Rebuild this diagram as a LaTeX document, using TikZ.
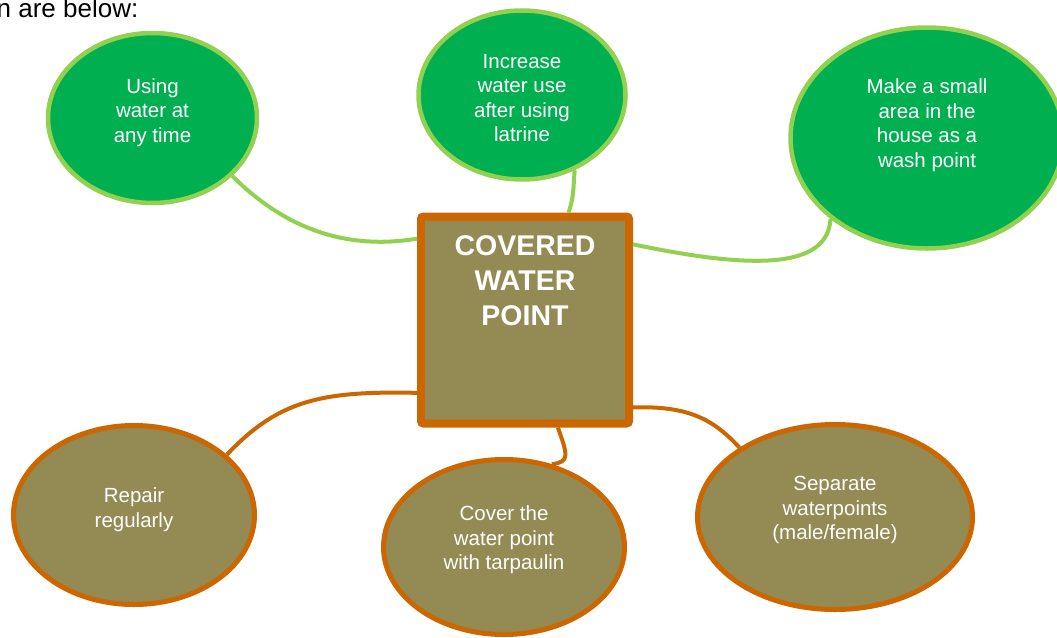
\documentclass[tikz,border=0pt]{standalone}
\usepackage{fontspec}
\setmainfont{Liberation Sans}
\usetikzlibrary{shapes.geometric}
\definecolor{dkgreen}{HTML}{00B050}
\definecolor{ltgreen}{HTML}{92D050}
\definecolor{rust}{HTML}{CC6600}
\definecolor{olive}{HTML}{948A54}
\tikzset{
  gbub/.style={ellipse, draw=ltgreen, fill=dkgreen, line width=4.5pt, inner sep=0pt},
  obub/.style={ellipse, draw=rust, fill=olive, line width=5pt, inner sep=0pt},
  btxt/.style={text=white, font=\fontsize{20.5}{24.5}\selectfont, align=center, inner sep=0pt},
  gline/.style={draw=ltgreen, line width=4pt},
  oline/.style={draw=rust, line width=4pt},
  core/.style={rectangle, draw=rust, fill=olive, line width=8pt, rounded corners=2.5pt,
    inner sep=0pt, minimum width=208pt, minimum height=207pt},
  ctxt/.style={text=white, font=\bfseries\fontsize{28.5}{35}\selectfont, align=center, inner sep=0pt}
}
\begin{document}
\begin{tikzpicture}[x=1pt,y=-1pt]
\useasboundingbox (0,0) rectangle (1057,637);
\clip (0,0) rectangle (1057,637);
\node[anchor=base west, font=\fontsize{26}{30}\selectfont, inner sep=0pt] (intro) at (-3.5,17.5) {n are below:};

\node[core, label={[ctxt,yshift=39pt]center:COVERED\\WATER\\POINT}] (sq) at (525,320) {};

\node[gbub, minimum width=209pt, minimum height=170pt,
  label={[btxt,yshift=5.5pt]center:Using\\water at\\any time}] (e1) at (152.5,118) {};
\node[gbub, minimum width=207pt, minimum height=169pt,
  label={[btxt,yshift=-3pt]center:Increase\\water use\\after using\\latrine}] (e2) at (522,95) {};
\node[gbub, minimum width=273pt, minimum height=221pt,
  label={[btxt,yshift=13pt]center:Make a small\\area in the\\house as a\\wash point}] (e3) at (927,138) {};

\node[obub, minimum width=241pt, minimum height=179pt,
  label={[btxt,yshift=5.5pt]center:Repair\\regularly}] (e4) at (134,515) {};
\node[obub, minimum width=241pt, minimum height=175pt,
  label={[btxt,yshift=7pt]center:Cover the\\water point\\with tarpaulin}] (e5) at (504,547) {};
\node[obub, minimum width=275pt, minimum height=185pt,
  label={[btxt,yshift=7pt]center:Separate\\waterpoints\\(male/female)}] (e6) at (835,517) {};

\draw[gline] (e1.-36) .. controls +(42,42) and +(-83,14) .. (sq.143);
\draw[gline] (e2.-55) to[out=-95,in=70] (sq.68);
\draw[gline] (sq.35) .. controls +(97,20) and +(-3,57) .. (e3.-140);

\draw[oline] (sq.214) .. controls +(-95,-2) and +(52,-55) .. (e4.33);
\draw[oline] (sq.-73) .. controls +(10,28) and +(18,-2) .. (e5.60);
\draw[oline] (sq.-39) .. controls +(57,-2) and +(-25,-27) .. (e6.144);
\end{tikzpicture}
\end{document}
